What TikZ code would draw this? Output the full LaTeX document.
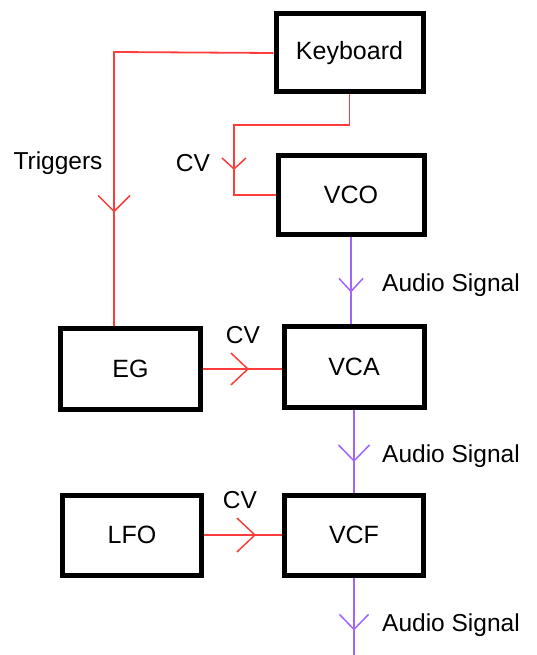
\documentclass[tikz,border=0pt]{standalone}
\usepackage{fontspec}
\setmainfont{Liberation Sans}
\usetikzlibrary{arrows.meta,decorations.markings}
\definecolor{cvred}{RGB}{255,60,60}
\definecolor{audiopurple}{RGB}{160,100,255}
\tikzset{
  module/.style={draw=black, line width=5pt, rectangle, inner sep=0pt, font=\fontsize{25}{29}\selectfont},
  lbl/.style={font=\fontsize{24.5}{28}\selectfont, inner sep=0pt},
  cvline/.style={draw=cvred, line width=1.8pt},
  audioline/.style={draw=audiopurple, line width=2pt},
  chev/.style n args={3}{postaction={decorate}, decoration={markings, mark=at position #1 with {\arrow[line width=1.5pt]{Straight Barb[length=#2, width=#3]}}}}
}
\begin{document}
\begin{tikzpicture}[x=1pt,y=-1pt]
\useasboundingbox (0,0) rectangle (536,655);
\node[module, minimum width=147pt, minimum height=78pt] (kb) at (349.5,53) {Keyboard};
\node[module, minimum width=146pt, minimum height=78pt] (vco) at (351,195) {VCO};
\node[module, minimum width=140pt, minimum height=81pt] (eg) at (130.5,369) {EG};
\node[module, minimum width=140pt, minimum height=81pt] (vca) at (354,367) {VCA};
\node[module, minimum width=139pt, minimum height=80pt] (lfo) at (132,535) {LFO};
\node[module, minimum width=139pt, minimum height=80pt] (vcf) at (354,535) {VCF};
\coordinate (t1) at (114,52);
\coordinate (c1) at (349.5,125);
\coordinate (c2) at (234,125);
\coordinate (out) at (354,655);
% Triggers
\draw[cvline, chev={320pt}{16pt}{32pt}] (kb.west) -- (t1) -- (t1 |- eg.north);
% CV keyboard -> VCO
\draw[cvline, chev={191pt}{11pt}{24pt}] (kb.south) -- (c1) -- (c2) -- (c2 |- vco.west) -- (vco.west);
% CV EG -> VCA
\draw[cvline, chev={46pt}{17pt}{32pt}] (eg.east) -- (eg.east -| vca.west);
% CV LFO -> VCF
\draw[cvline, chev={52pt}{18pt}{34pt}] (lfo.east) -- (lfo.east -| vcf.west);
% Audio
\draw[audioline, chev={56pt}{13pt}{24pt}] (vco.south) -- (vco.south |- vca.north);
\draw[audioline, chev={52pt}{16pt}{31pt}] (vca.south) -- (vca.south |- vcf.north);
\draw[audioline, chev={53pt}{15pt}{29pt}] (vcf.south) -- (out);
% labels
\node[lbl] (ltrig) at (58,163) {Triggers};
\node[lbl] (lcv1) at (193,163) {CV};
\node[lbl] (lcv2) at (243,335) {CV};
\node[lbl] (lcv3) at (240,500) {CV};
\node[lbl, anchor=west] (la1) at (382,285) {Audio Signal};
\node[lbl, anchor=west] (la2) at (382,456) {Audio Signal};
\node[lbl, anchor=west] (la3) at (382,625) {Audio Signal};
\end{tikzpicture}
\end{document}
